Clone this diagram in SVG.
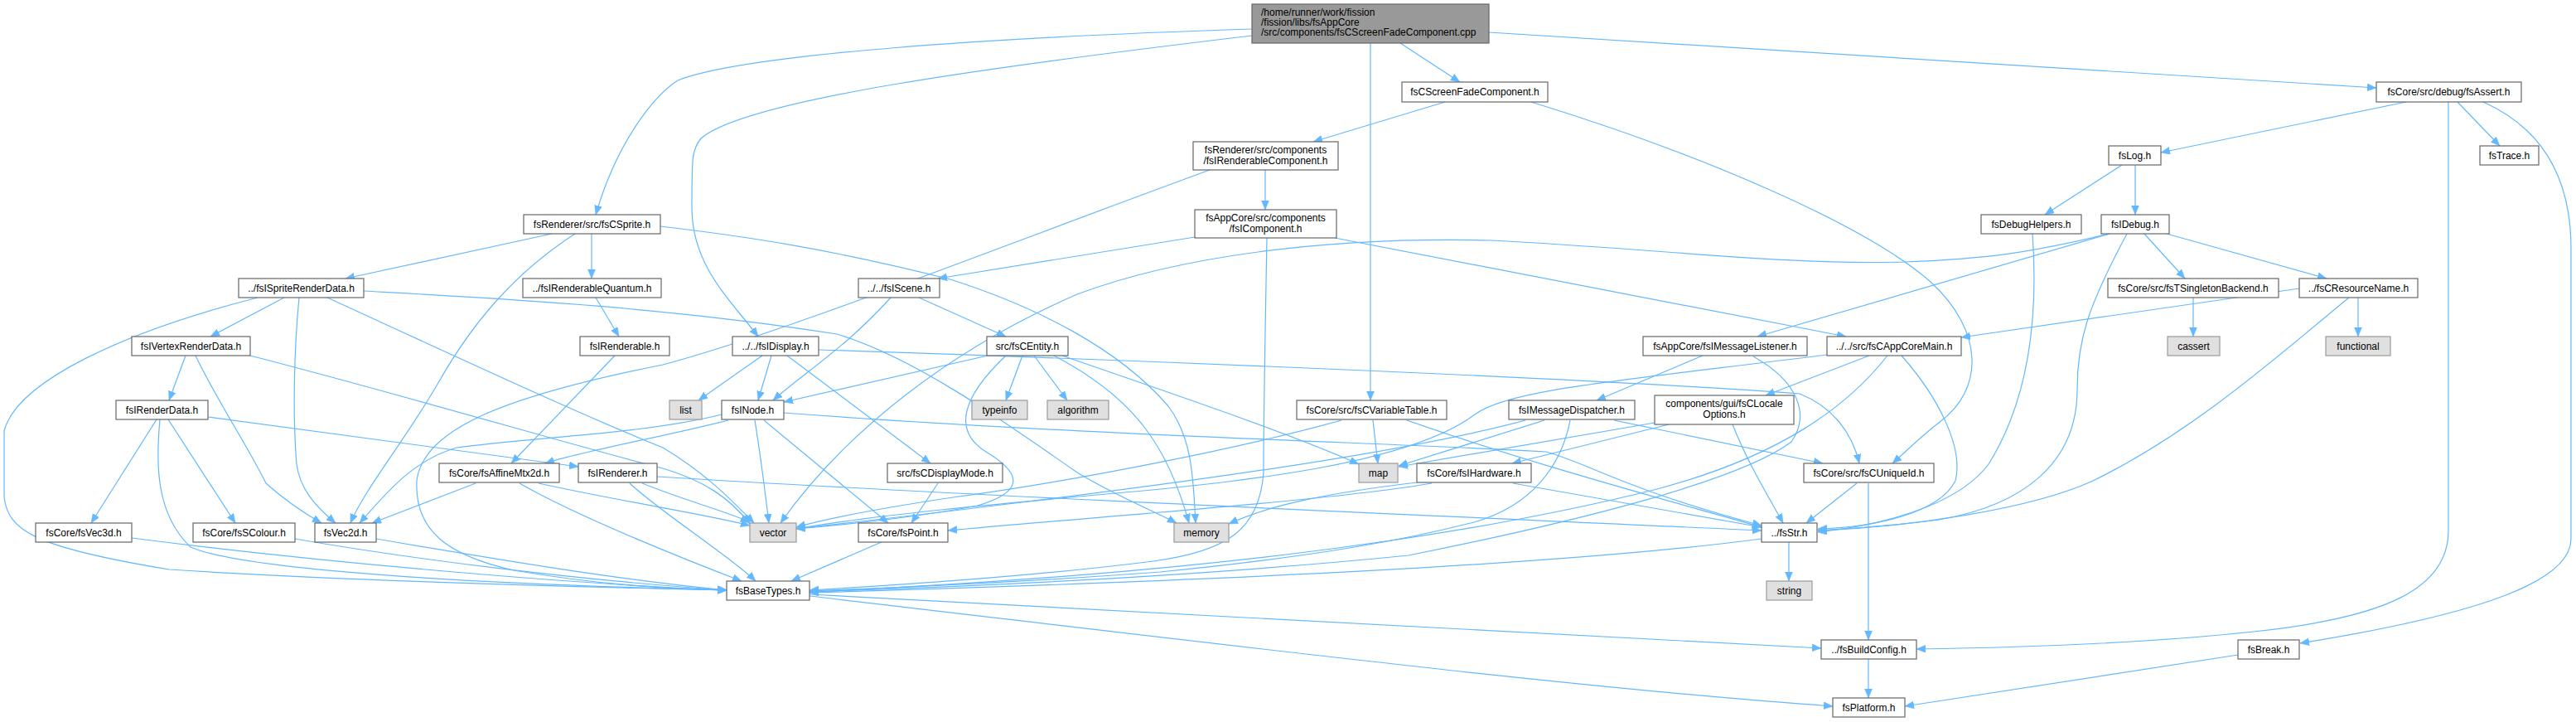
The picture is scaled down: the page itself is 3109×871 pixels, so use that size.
<svg xmlns="http://www.w3.org/2000/svg" width="3109" height="871" viewBox="0 0 3109 871">
<defs>
<marker id="a" markerUnits="userSpaceOnUse" markerWidth="12" markerHeight="10" refX="11" refY="4.5" orient="auto">
<path d="M0,0 L11,4.5 L0,9 z" fill="#63b8ff" stroke="#63b8ff" stroke-width="0.5"/>
</marker>
<style>
.n rect{fill:#fff;stroke:#666;stroke-width:1.2}
.x rect{fill:#e0e0e0;stroke:#999;stroke-width:1.2}
.r rect{fill:#999;stroke:#666;stroke-width:1.2}
text{font-family:"Liberation Sans",Arial,sans-serif;font-size:12px;text-anchor:middle;fill:#000}
.e path{fill:none;stroke:#63b8ff;stroke-width:1.2;marker-end:url(#a)}
</style>
</defs>
<rect width="3109" height="871" fill="#fff"/>
<g class="e" id="edges">
<path d="M1690,52 L1762,99"/>
<path d="M1511,35 C1200,45 900,65 818,97 C790,115 745,170 719,259"/>
<path d="M1511,43 C1200,80 900,120 846,167 C835,180 835,190 835,250 C835,320 880,360 915,406"/>
<path d="M1654,52 L1654,483"/>
<path d="M1797,39 L2868,106"/>
<path d="M1744,123 L1585,171"/>
<path d="M1848,123 C2050,185 2250,270 2330,340 C2395,400 2395,470 2340,510 C2320,525 2300,545 2284,559"/>
<path d="M2904,123 L2608,184"/>
<path d="M2966,123 L3017,176"/>
<path d="M2955,123 L2955,640 C2955,710 2880,745 2720,762 C2600,775 2450,781 2313,783"/>
<path d="M2997,123 C3080,160 3103,230 3103,300 L3103,650 C3103,700 3000,740 2776,776"/>
<path d="M2561,199 L2468,259"/>
<path d="M2577,199 L2577,259"/>
<path d="M2588,282 L2637,336"/>
<path d="M2615,282 L2808,336"/>
<path d="M2546,282 L2121,406"/>
<path d="M2546,282 C2450,305 2400,312 2300,316 C2150,320 2000,300 1800,290 C1600,285 1420,310 1300,355 C1150,420 1020,520 942,631"/>
<path d="M2567,282 C2520,370 2507,410 2507,470 C2507,560 2440,610 2340,627 C2280,635 2230,638 2194,640"/>
<path d="M2453,282 C2460,380 2450,480 2400,560 C2370,600 2300,630 2194,642"/>
<path d="M2846,359 L2846,406"/>
<path d="M2775,348 L2367,407"/>
<path d="M2835,359 C2760,420 2650,520 2526,580 C2450,615 2300,636 2194,640"/>
<path d="M2647,359 L2647,406"/>
<path d="M2256,429 L2131,477"/>
<path d="M2295,429 C2340,480 2370,540 2360,580 C2340,620 2260,636 2194,638"/>
<path d="M2205,428 C1950,460 1820,470 1780,500 C1700,560 1500,580 1380,592 C1200,608 1050,622 961,638"/>
<path d="M2278,429 C2230,490 2150,550 2000,590 C1800,640 1500,690 977,714"/>
<path d="M1611,287 L2228,406"/>
<path d="M1442,286 L1132,336"/>
<path d="M1529,287 C1527,400 1525,500 1525,570 C1520,640 1480,665 1392,677 C1250,695 1100,705 977,712"/>
<path d="M1527,205 L1527,253"/>
<path d="M1460,205 C1200,300 950,400 800,440 C600,480 510,520 503,580 C500,640 540,670 620,688 C720,705 800,710 877,712"/>
<path d="M666,282 L417,336"/>
<path d="M714,282 L714,336"/>
<path d="M694,282 C620,330 570,390 530,460 C490,530 440,590 423,631"/>
<path d="M797,273 C900,285 1000,300 1147,337 C1250,370 1350,420 1410,490 C1440,530 1440,580 1443,631"/>
<path d="M343,359 L254,406"/>
<path d="M311,359 C150,400 20,460 5,520 L5,600 C10,640 40,660 204,687 C400,700 700,708 877,712"/>
<path d="M361,359 C355,420 353,500 358,560 C362,590 380,610 405,631"/>
<path d="M395,359 C550,430 700,500 800,540 C850,570 880,600 910,631"/>
<path d="M439,351 C600,360 800,370 1010,403 C1100,430 1200,500 1300,570 C1350,600 1390,615 1420,631"/>
<path d="M224,429 L204,483"/>
<path d="M236,429 C260,480 300,540 321,583 C340,600 360,615 388,631"/>
<path d="M302,429 C500,480 700,540 800,565 C850,580 880,600 905,632"/>
<path d="M189,506 L110,631"/>
<path d="M203,506 L284,631"/>
<path d="M193,506 C188,560 188,620 230,660 C300,690 600,705 877,712"/>
<path d="M251,503 L698,563"/>
<path d="M719,359 L747,406"/>
<path d="M742,429 L617,559"/>
<path d="M879,507 C800,527 700,545 658,559"/>
<path d="M871,500 C780,523 650,527 551,540 C500,555 470,590 434,631"/>
<path d="M911,507 C918,550 923,590 928,631"/>
<path d="M922,507 L1072,631"/>
<path d="M946,498 C1300,525 1700,535 1866,545 C1920,560 1960,590 2126,634"/>
<path d="M920,429 L843,483"/>
<path d="M931,429 L915,483"/>
<path d="M950,429 L1123,559"/>
<path d="M988,422 C1300,432 1900,455 2172,475 C2210,490 2235,520 2244,559"/>
<path d="M1075,359 C1020,420 970,450 933,483"/>
<path d="M1109,359 L1214,406"/>
<path d="M1192,429 L946,485"/>
<path d="M1234,429 L1214,483"/>
<path d="M1248,429 L1288,483"/>
<path d="M1214,429 C1160,480 1150,520 1190,545 C1240,575 1230,595 1180,610 C1100,625 1020,633 961,638"/>
<path d="M1272,429 C1370,480 1410,540 1435,631"/>
<path d="M1282,429 C1400,470 1550,520 1640,560"/>
<path d="M1657,507 L1663,559"/>
<path d="M1619,507 C1500,540 1300,580 1150,600 C1050,615 1000,625 961,636"/>
<path d="M1698,507 C1850,560 2000,600 2126,636"/>
<path d="M1895,507 C1885,560 1850,610 1779,630 C1700,650 1600,670 1400,690 C1200,705 1050,710 977,713"/>
<path d="M1864,507 L1688,562"/>
<path d="M1841,507 C1700,545 1450,580 1200,610 C1080,625 1000,633 961,638"/>
<path d="M1948,507 L2200,559"/>
<path d="M2055,429 L1927,483"/>
<path d="M2116,430 C2170,460 2185,500 2162,533 C2100,580 1900,630 1700,670 C1400,700 1100,710 977,714"/>
<path d="M1997,510 L1688,563"/>
<path d="M2014,512 L1825,559"/>
<path d="M2091,512 C2110,560 2135,600 2152,631"/>
<path d="M1710,582 C1600,595 1530,610 1483,632"/>
<path d="M1728,583 C1600,605 1300,625 1144,640"/>
<path d="M1826,583 L2126,636"/>
<path d="M1132,583 L1100,631"/>
<path d="M1066,653 L955,701"/>
<path d="M159,649 C400,680 700,705 877,712"/>
<path d="M356,650 C500,675 700,700 877,712"/>
<path d="M454,650 C600,675 750,700 877,712"/>
<path d="M574,583 L449,631"/>
<path d="M650,583 C750,605 850,620 905,634"/>
<path d="M627,583 C700,625 840,680 895,701"/>
<path d="M760,583 C800,620 880,670 912,701"/>
<path d="M793,575 C1200,600 1800,625 2126,640"/>
<path d="M775,583 C830,605 880,618 905,630"/>
<path d="M2159,653 L2159,701"/>
<path d="M2126,650 C1900,680 1500,700 977,715"/>
<path d="M2241,583 L2180,631"/>
<path d="M2255,583 L2255,772"/>
<path d="M977,717 C1500,745 2000,770 2198,782"/>
<path d="M977,719 C1500,780 1900,830 2212,852"/>
<path d="M2255,795 L2255,842"/>
<path d="M2701,790 L2299,852"/>
</g>
<g id="root" class="r"><rect x="1511" y="5" width="286" height="47"/><text x="1522" y="19" style="text-anchor:start">/home/runner/work/fission</text><text x="1522" y="31" style="text-anchor:start">/fission/libs/fsAppCore</text><text x="1522" y="43" style="text-anchor:start">/src/components/fsCScreenFadeComponent.cpp</text></g>
<g id="n1" class="n"><rect x="1692" y="99" width="176" height="24"/><text x="1780" y="115">fsCScreenFadeComponent.h</text></g>
<g id="n2" class="n"><rect x="2868" y="99" width="175" height="24"/><text x="2955.5" y="115">fsCore/src/debug/fsAssert.h</text></g>
<g id="n3" class="n"><rect x="1440" y="171" width="175" height="34"/><text x="1527.5" y="185">fsRenderer/src/components</text><text x="1527.5" y="198">/fsIRenderableComponent.h</text></g>
<g id="n4" class="n"><rect x="2545" y="176" width="63" height="23"/><text x="2576.5" y="192">fsLog.h</text></g>
<g id="n5" class="n"><rect x="2993" y="176" width="71" height="23"/><text x="3028.5" y="192">fsTrace.h</text></g>
<g id="n6" class="n"><rect x="632" y="259" width="165" height="23"/><text x="714.5" y="275">fsRenderer/src/fsCSprite.h</text></g>
<g id="n7" class="n"><rect x="1442" y="253" width="171" height="34"/><text x="1527.5" y="267">fsAppCore/src/components</text><text x="1527.5" y="280">/fsIComponent.h</text></g>
<g id="n8" class="n"><rect x="2391" y="259" width="121" height="23"/><text x="2451.5" y="275">fsDebugHelpers.h</text></g>
<g id="n9" class="n"><rect x="2536" y="259" width="82" height="23"/><text x="2577" y="275">fsIDebug.h</text></g>
<g id="n10" class="n"><rect x="288" y="336" width="151" height="23"/><text x="363.5" y="352">../fsISpriteRenderData.h</text></g>
<g id="n11" class="n"><rect x="631" y="336" width="167" height="23"/><text x="714.5" y="352">../fsIRenderableQuantum.h</text></g>
<g id="n12" class="n"><rect x="1036" y="336" width="98" height="23"/><text x="1085" y="352">../../fsIScene.h</text></g>
<g id="n13" class="n"><rect x="2544" y="336" width="206" height="23"/><text x="2647" y="352">fsCore/src/fsTSingletonBackend.h</text></g>
<g id="n14" class="n"><rect x="2775" y="336" width="143" height="23"/><text x="2846.5" y="352">../fsCResourceName.h</text></g>
<g id="n15" class="n"><rect x="159" y="406" width="143" height="23"/><text x="230.5" y="422">fsIVertexRenderData.h</text></g>
<g id="n16" class="n"><rect x="700" y="406" width="108" height="23"/><text x="754" y="422">fsIRenderable.h</text></g>
<g id="n17" class="n"><rect x="884" y="406" width="104" height="23"/><text x="936" y="422">../../fsIDisplay.h</text></g>
<g id="n18" class="n"><rect x="1191" y="406" width="98" height="23"/><text x="1240" y="422">src/fsCEntity.h</text></g>
<g id="n19" class="n"><rect x="1983" y="406" width="198" height="23"/><text x="2082" y="422">fsAppCore/fsIMessageListener.h</text></g>
<g id="n20" class="n"><rect x="2205" y="406" width="162" height="23"/><text x="2286" y="422">../../src/fsCAppCoreMain.h</text></g>
<g id="n21" class="x"><rect x="2616" y="406" width="63" height="23"/><text x="2647.5" y="422">cassert</text></g>
<g id="n22" class="x"><rect x="2807" y="406" width="78" height="23"/><text x="2846" y="422">functional</text></g>
<g id="n23" class="n"><rect x="140" y="483" width="111" height="23"/><text x="195.5" y="499">fsIRenderData.h</text></g>
<g id="n24" class="x"><rect x="808" y="483" width="39" height="23"/><text x="827.5" y="499">list</text></g>
<g id="n25" class="n"><rect x="871" y="483" width="75" height="23"/><text x="908.5" y="499">fsINode.h</text></g>
<g id="n26" class="x"><rect x="1173" y="483" width="67" height="23"/><text x="1206.5" y="499">typeinfo</text></g>
<g id="n27" class="x"><rect x="1264" y="483" width="74" height="23"/><text x="1301" y="499">algorithm</text></g>
<g id="n28" class="n"><rect x="1565" y="483" width="181" height="23"/><text x="1655.5" y="499">fsCore/src/fsCVariableTable.h</text></g>
<g id="n29" class="n"><rect x="1821" y="483" width="152" height="23"/><text x="1897" y="499">fsIMessageDispatcher.h</text></g>
<g id="n30" class="n"><rect x="1997" y="477" width="168" height="35"/><text x="2081" y="491">components/gui/fsCLocale</text><text x="2081" y="504">Options.h</text></g>
<g id="n31" class="n"><rect x="530" y="559" width="145" height="23"/><text x="602.5" y="575">fsCore/fsAffineMtx2d.h</text></g>
<g id="n32" class="n"><rect x="698" y="559" width="95" height="23"/><text x="745.5" y="575">fsIRenderer.h</text></g>
<g id="n33" class="n"><rect x="1071" y="559" width="139" height="23"/><text x="1140.5" y="575">src/fsCDisplayMode.h</text></g>
<g id="n34" class="x"><rect x="1640" y="559" width="47" height="23"/><text x="1663.5" y="575">map</text></g>
<g id="n35" class="n"><rect x="1710" y="559" width="138" height="23"/><text x="1779" y="575">fsCore/fsIHardware.h</text></g>
<g id="n36" class="n"><rect x="2177" y="559" width="157" height="23"/><text x="2255.5" y="575">fsCore/src/fsCUniqueId.h</text></g>
<g id="n37" class="n"><rect x="43" y="631" width="116" height="23"/><text x="101" y="647">fsCore/fsVec3d.h</text></g>
<g id="n38" class="n"><rect x="233" y="631" width="123" height="23"/><text x="294.5" y="647">fsCore/fsSColour.h</text></g>
<g id="n39" class="n"><rect x="380" y="631" width="74" height="23"/><text x="417" y="647">fsVec2d.h</text></g>
<g id="n40" class="x"><rect x="905" y="631" width="56" height="23"/><text x="933" y="647">vector</text></g>
<g id="n41" class="n"><rect x="1036" y="631" width="108" height="23"/><text x="1090" y="647">fsCore/fsPoint.h</text></g>
<g id="n42" class="x"><rect x="1417" y="631" width="66" height="23"/><text x="1450" y="647">memory</text></g>
<g id="n43" class="n"><rect x="2126" y="631" width="67" height="23"/><text x="2159.5" y="647">../fsStr.h</text></g>
<g id="n44" class="n"><rect x="877" y="701" width="100" height="23"/><text x="927" y="717">fsBaseTypes.h</text></g>
<g id="n45" class="x"><rect x="2132" y="701" width="55" height="23"/><text x="2159.5" y="717">string</text></g>
<g id="n46" class="n"><rect x="2198" y="772" width="115" height="23"/><text x="2255.5" y="788">../fsBuildConfig.h</text></g>
<g id="n47" class="n"><rect x="2701" y="772" width="74" height="23"/><text x="2738" y="788">fsBreak.h</text></g>
<g id="n48" class="n"><rect x="2212" y="842" width="87" height="23"/><text x="2255.5" y="858">fsPlatform.h</text></g>
</svg>
